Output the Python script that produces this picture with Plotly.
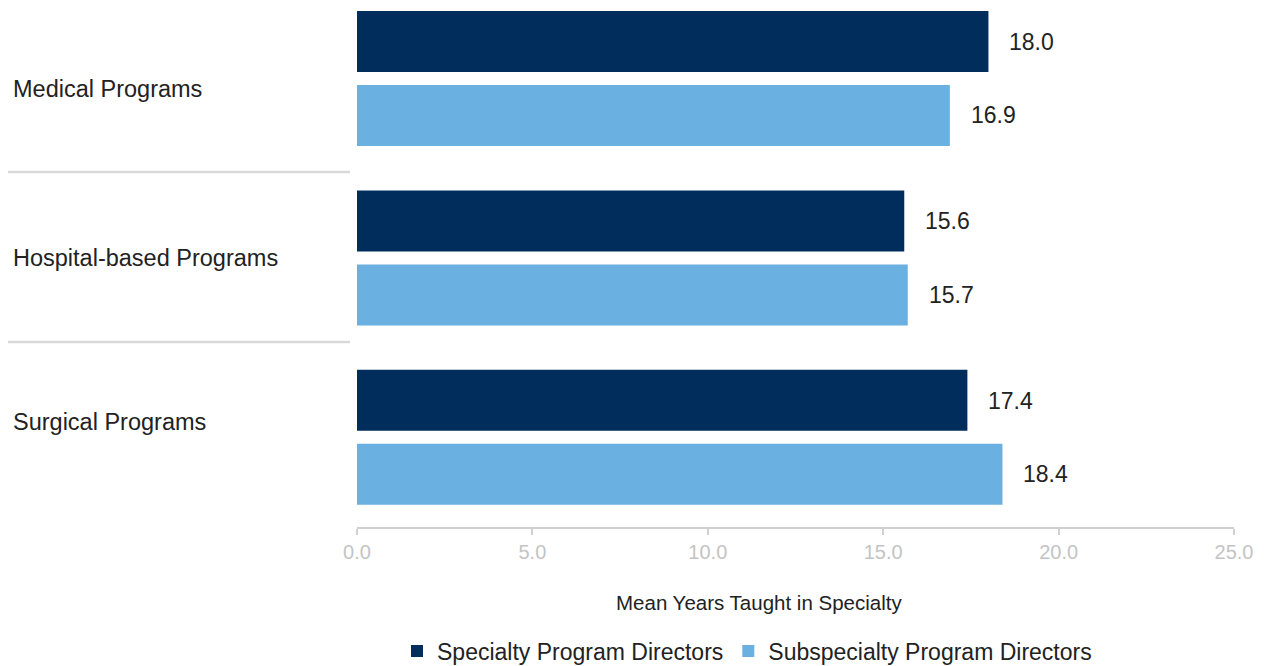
import plotly.graph_objects as go

categories = ["Medical Programs", "Hospital-based Programs", "Surgical Programs"]
specialty = [18.0, 15.6, 17.4]
subspecialty = [16.9, 15.7, 18.4]
series_names = ["Specialty Program Directors", "Subspecialty Program Directors"]
tick_vals = [0, 5, 10, 15, 20, 25]
axis_title = "Mean Years Taught in Specialty"

DARK = "#002d5c"
LIGHT = "#6ab0e0"
FONT = "Liberation Sans, Arial, sans-serif"
TXT = "#222222"

# figure-pixel geometry (page is offset by the 8px body margin)
L, R, PH = 349, 1226, 519
PW = R - L


def px_x(x):
    return (x - L) / PW


def px_y(y):
    return 1 - y / PH


fig = go.Figure()
fig.add_trace(go.Bar(y=categories, x=specialty, orientation="h", name=series_names[0],
                     marker=dict(color=DARK, line=dict(width=0)), hoverinfo="x"))
fig.add_trace(go.Bar(y=categories, x=subspecialty, orientation="h", name=series_names[1],
                     marker=dict(color=LIGHT, line=dict(width=0)), hoverinfo="x"))

annotations = []
# data labels
for i, cat in enumerate(categories):
    for vals, off in ((specialty, -0.205), (subspecialty, 0.205)):
        annotations.append(dict(x=vals[i], y=i + off, xref="x", yref="y", text=f"{vals[i]:.1f}",
                                showarrow=False, xanchor="left", yanchor="middle", xshift=19,
                                font=dict(size=23, color=TXT, family=FONT)))
# category labels
label_shift = [-10, 0, 15]
for i, cat in enumerate(categories):
    annotations.append(dict(x=px_x(3), xref="paper", y=i, yref="y", yshift=label_shift[i],
                            text=cat, showarrow=False, xanchor="left", yanchor="middle",
                            font=dict(size=23.5, color=TXT, family=FONT)))
# axis title
annotations.append(dict(x=px_x(751), xref="paper", y=px_y(594), yref="paper",
                        text=axis_title, showarrow=False, xanchor="center", yanchor="middle",
                        font=dict(size=20.5, color=TXT, family=FONT)))

shapes = []
for py in (164, 334):
    shapes.append(dict(type="line", xref="paper", yref="paper",
                       x0=px_x(0), x1=px_x(342), y0=px_y(py), y1=px_y(py),
                       line=dict(color="#d9d9d9", width=2.5)))

fig.update_layout(
    width=1268, height=666,
    margin=dict(l=L, r=1268 - R, t=0, b=666 - PH, pad=0),
    paper_bgcolor="white", plot_bgcolor="white",
    barmode="group", bargap=0.175, bargroupgap=0.176,
    font=dict(family=FONT, color=TXT),
    showlegend=True,
    legend=dict(orientation="h", x=px_x(739), xanchor="center",
                y=px_y(643), yanchor="middle",
                font=dict(size=23, color=TXT, family=FONT),
                itemsizing="constant", traceorder="normal", tracegroupgap=0),
    annotations=annotations,
    shapes=shapes,
)
fig.update_xaxes(range=[0, 25], tickvals=tick_vals, tickformat=".1f", showgrid=False,
                 zeroline=False, showline=True, linecolor="#d0d0d0", linewidth=1.5,
                 ticks="outside", ticklen=6, tickcolor="#d0d0d0", tickwidth=1.5,
                 tickfont=dict(size=20, color="#c4c4c4", family=FONT))
fig.update_yaxes(range=[2.5, -0.393], showticklabels=False, showgrid=False, zeroline=False,
                 showline=False, ticks="")

fig.write_html("out.html")
